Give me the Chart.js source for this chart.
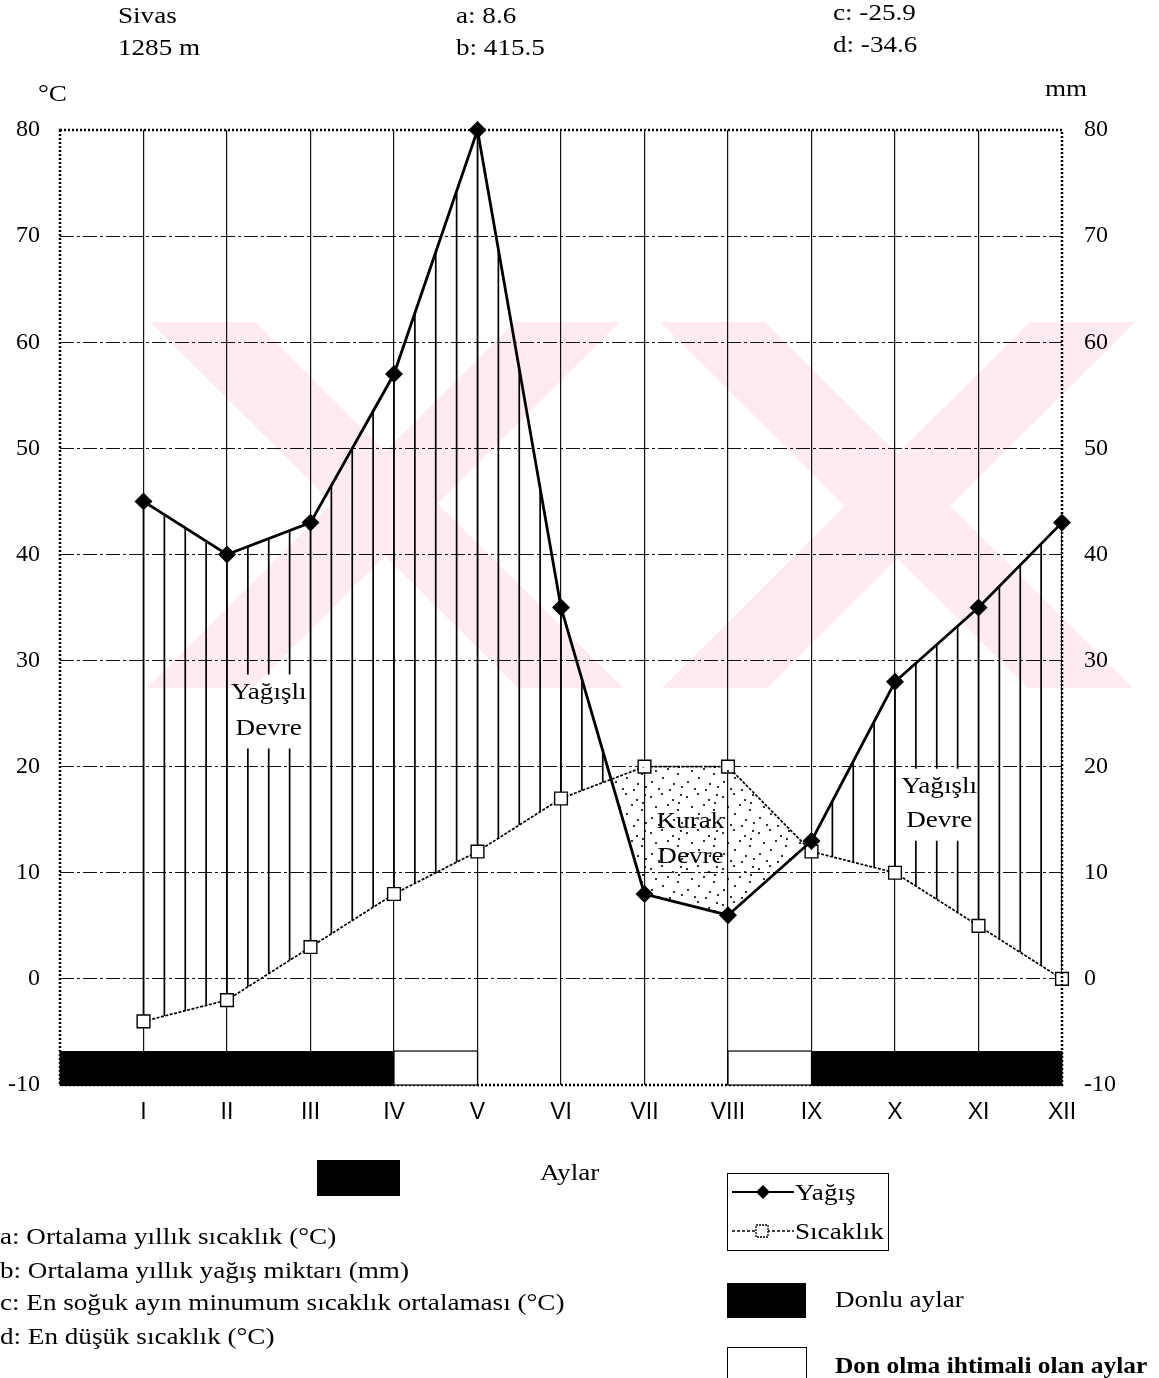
<!DOCTYPE html>
<html>
<head>
<meta charset="utf-8">
<script src="https://cdn.jsdelivr.net/npm/chart.js@4.4.1/dist/chart.umd.min.js"></script>
<style>
  body { margin: 0; background: #fff; }
  #wrap { position: relative; width: 1159px; height: 1378px; overflow: hidden; }
  #c { position: absolute; left: 0; top: 0; }
  .t { position: absolute; font-family: "Liberation Serif", serif; font-size: 24px; color: #000;
       line-height: 26px; height: 26px; white-space: nowrap;
       transform: scaleX(1.13); transform-origin: 0 50%; }
  .box { position: absolute; }
</style>
</head>
<body>
<div id="wrap">
  <canvas id="c" width="1159" height="1378"></canvas>

  <div class="t" style="left:118px; top:2px;">Sivas</div>
  <div class="t" style="left:118px; top:34px;">1285 m</div>
  <div class="t" style="left:456px; top:2px;">a: 8.6</div>
  <div class="t" style="left:456px; top:34px;">b: 415.5</div>
  <div class="t" style="left:833px; top:-1px;">c: -25.9</div>
  <div class="t" style="left:833px; top:31px;">d: -34.6</div>
  <div class="t" style="left:38px; top:80px;">°C</div>
  <div class="t" style="left:1045px; top:75px;">mm</div>

  <div class="box" style="left:317px; top:1160px; width:83px; height:36px; background:#000;"></div>
  <div class="t" style="left:540px; top:1159px;">Aylar</div>

  <div class="t" style="left:0px; top:1223px;">a: Ortalama yıllık sıcaklık (°C)</div>
  <div class="t" style="left:0px; top:1257px;">b: Ortalama yıllık yağış miktarı (mm)</div>
  <div class="t" style="left:0px; top:1289px;">c: En soğuk ayın minumum sıcaklık ortalaması (°C)</div>
  <div class="t" style="left:0px; top:1323px;">d: En düşük sıcaklık (°C)</div>

  <div class="box" style="left:727px; top:1173px; width:160px; height:76px; border:1px solid #000;"></div>
  <svg class="box" style="left:732px; top:1185px;" width="62" height="14">
    <line x1="0" y1="7" x2="62" y2="7" stroke="#000" stroke-width="2"/>
    <polygon points="31,0 38,7 31,14 24,7" fill="#000"/>
  </svg>
  <div class="t" style="left:795px; top:1179px;">Yağış</div>
  <svg class="box" style="left:732px; top:1223px;" width="62" height="16">
    <line x1="0" y1="8" x2="62" y2="8" stroke="#000" stroke-width="1.3" stroke-dasharray="3 2"/>
    <rect x="24" y="2" width="12" height="12" fill="#fff" stroke="#000" stroke-width="1.3" stroke-dasharray="2 1"/>
  </svg>
  <div class="t" style="left:795px; top:1218px;">Sıcaklık</div>

  <div class="box" style="left:727px; top:1283px; width:79px; height:35px; background:#000;"></div>
  <div class="t" style="left:835px; top:1286px;">Donlu aylar</div>
  <div class="box" style="left:727px; top:1347px; width:78px; height:40px; border:1px solid #000;"></div>
  <div class="t" style="left:835px; top:1352px; font-weight:bold; transform:scaleX(1.06);">Don olma ihtimali olan aylar</div>
</div>

<script>
// aylar ve veriler
const aylar = ["I", "II", "III", "IV", "V", "VI", "VII", "VIII", "IX", "X", "XI", "XII"];
const yagis = [45, 40, 43, 57, 80, 35, 8, 6, 13, 28, 35, 43];      // mm
const sicaklik = [-4, -2, 3, 8, 12, 17, 20, 20, 12, 10, 5, 0];      // °C
const eksenMin = -10;
const eksenMax = 80;
const donluAylar = [1, 2, 3, 4, 10, 11, 12];
const donIhtimali = [5, 9];

const canvas = document.getElementById("c");
const ctx = canvas.getContext("2d");

// kurak devre için noktalı desen
function noktaDeseni() {
    const c = document.createElement("canvas");
    c.width = 36; c.height = 36;
    const g = c.getContext("2d");
    g.fillStyle = "#000";
    const noktalar = [[3,5],[14,2],[25,8],[33,3],[8,15],[20,13],[30,18],[4,26],[15,22],[26,28],[11,33],[22,34],[34,31],[31,11]];
    noktalar.forEach(p => { g.beginPath(); g.arc(p[0], p[1], 1.1, 0, Math.PI * 2); g.fill(); });
    return ctx.createPattern(c, "repeat");
}

// yazı yerleri (tarama burada kesilir)
const yaziKutulari = [
    { x: 2.5, y: 27.0, ara: 36 },
    { x: 10.53, y: 18.1, ara: 34 }
];

function deger(arr, x) {
    const i = Math.floor(x) - 1;
    if (i >= arr.length - 1) return arr[arr.length - 1];
    const f = x - Math.floor(x);
    return arr[i] + (arr[i + 1] - arr[i]) * f;
}

function yazi(c, s, x, y) {
    c.save();
    c.translate(x, y);
    c.scale(1.13, 1);
    c.fillText(s, 0, 0);
    c.restore();
}

const filigran = {
    id: "filigran",
    beforeDraw(chart) {
        const c = chart.ctx;
        c.save();
        c.fillStyle = "rgba(240, 120, 150, 0.15)";
        const bantlar = [
            [150, 255, 518, 623], [515, 620, 147, 252],
            [660, 765, 1028, 1133], [1030, 1135, 662, 767]
        ];
        c.beginPath();
        bantlar.forEach(b => {
            c.moveTo(b[0], 322); c.lineTo(b[1], 322);
            c.lineTo(b[3], 688); c.lineTo(b[2], 688);
            c.closePath();
        });
        c.rect(150, 322, 0, 0);
        c.fill("nonzero");
        c.restore();
    }
};

const tarama = {
    id: "tarama",
    beforeDatasetsDraw(chart) {
        const c = chart.ctx;
        const xs = chart.scales.x, ys = chart.scales.y;
        const a = chart.chartArea;
        c.save();
        c.beginPath();
        c.rect(a.left, a.top, a.right - a.left, a.bottom - a.top);
        yaziKutulari.forEach(k => {
            const cx = xs.getPixelForValue(k.x);
            const top = ys.getPixelForValue(k.y) - 18;
            const bot = ys.getPixelForValue(k.y) + k.ara + 20;
            c.rect(cx + 34, top, -68, bot - top);
        });
        c.clip("evenodd");
        c.strokeStyle = "#000";
        c.lineWidth = 1.7;
        for (let x = 1; x <= 12; x += 0.25) {
            const p = deger(yagis, x), t = deger(sicaklik, x);
            if (p > t + 0.5) {
                const px = xs.getPixelForValue(x);
                c.beginPath();
                c.moveTo(px, ys.getPixelForValue(p));
                c.lineTo(px, ys.getPixelForValue(t));
                c.stroke();
            }
        }
        c.restore();
    },
    afterDatasetsDraw(chart) {
        const c = chart.ctx;
        const xs = chart.scales.x, ys = chart.scales.y;
        const a = chart.chartArea;
        c.save();
        // noktalı çerçeve
        c.strokeStyle = "#000";
        c.lineWidth = 2.5;
        c.setLineDash([2, 2]);
        c.strokeRect(a.left, a.top, a.right - a.left, a.bottom - a.top);
        c.setLineDash([]);
        // don şeritleri
        const ust = ys.getPixelForValue(-6.8);
        donluAylar.forEach(m => {
            const x0 = xs.getPixelForValue(m - 1), x1 = xs.getPixelForValue(m);
            c.fillStyle = "#000";
            c.fillRect(x0 - 0.5, ust, x1 - x0 + 1, a.bottom - ust + 1);
        });
        donIhtimali.forEach(m => {
            const x0 = xs.getPixelForValue(m - 1), x1 = xs.getPixelForValue(m);
            c.fillStyle = "#fff";
            c.fillRect(x0, ust, x1 - x0, a.bottom - ust);
            c.lineWidth = 1.2;
            c.strokeStyle = "#000";
            c.strokeRect(x0, ust, x1 - x0, a.bottom - ust);
        });
        // etiketler
        c.fillStyle = "#000";
        c.font = "24px 'Liberation Serif'";
        c.textAlign = "center";
        c.textBaseline = "middle";
        yaziKutulari.forEach(k => {
            const cx = xs.getPixelForValue(k.x);
            const cy = ys.getPixelForValue(k.y);
            yazi(c, "Yağışlı", cx, cy);
            yazi(c, "Devre", cx, cy + k.ara);
        });
        yazi(c, "Kurak", xs.getPixelForValue(7.55), ys.getPixelForValue(14.8));
        yazi(c, "Devre", xs.getPixelForValue(7.55), ys.getPixelForValue(11.5));
        c.restore();
    }
};

const kenarGizle = (ctxTick) => {
    const v = ctxTick.tick ? ctxTick.tick.value : null;
    return (v === eksenMin || v === eksenMax) ? "rgba(0,0,0,0)" : "#111";
};

new Chart(ctx, {
    type: "line",
    data: {
        datasets: [{
            label: "Yağış",
            data: yagis.map((v, i) => ({ x: i + 1, y: v })),
            borderColor: "#000",
            borderWidth: 2.8,
            pointStyle: "rectRot",
            pointRadius: 7,
            pointBackgroundColor: "#000",
            pointBorderColor: "#000",
            tension: 0,
            clip: false,
            fill: { target: 1, above: "rgba(0,0,0,0)", below: noktaDeseni() }
        }, {
            label: "Sıcaklık",
            data: sicaklik.map((v, i) => ({ x: i + 1, y: v })),
            borderColor: "#000",
            borderWidth: 1.7,
            borderDash: [3, 1.5],
            pointStyle: "rect",
            pointRadius: 9,
            pointBackgroundColor: "#fff",
            pointBorderColor: "#000",
            pointBorderWidth: 1.4,
            tension: 0,
            clip: false,
            fill: false
        }]
    },
    options: {
        responsive: false,
        animation: false,
        layout: { padding: { top: 130, bottom: 248, left: 0, right: 0 } },
        plugins: { legend: { display: false }, tooltip: { enabled: false } },
        scales: {
            x: {
                type: "linear",
                min: 0, max: 12,
                afterFit: s => { s.height = 45; },
                afterBuildTicks: s => { s.ticks = aylar.map((m, i) => ({ value: i })).concat([{ value: 12 }]); },
                ticks: {
                    autoSkip: false,
                    maxRotation: 0,
                    padding: 14,
                    color: "#000",
                    font: { family: "'Liberation Sans'", size: 23 },
                    callback: v => (v >= 1 ? aylar[v - 1] : "")
                },
                grid: {
                    drawTicks: false,
                    lineWidth: 1.2,
                    color: c => {
                        const v = c.tick ? c.tick.value : null;
                        return (v === 0 || v === 12) ? "rgba(0,0,0,0)" : "#111";
                    }
                },
                border: { display: false }
            },
            y: {
                position: "left",
                min: eksenMin, max: eksenMax,
                afterFit: s => { s.width = 60; },
                ticks: {
                    stepSize: 10,
                    padding: 20,
                    color: "#000",
                    font: { family: "'Liberation Serif'", size: 24 }
                },
                grid: { drawTicks: false, lineWidth: 1.1, color: kenarGizle },
                border: { display: false, dash: [14, 3, 3, 3] }
            },
            y2: {
                position: "right",
                min: eksenMin, max: eksenMax,
                afterFit: s => { s.width = 97; },
                ticks: {
                    stepSize: 10,
                    padding: 22,
                    color: "#000",
                    font: { family: "'Liberation Serif'", size: 24 }
                },
                grid: { drawOnChartArea: false, drawTicks: false },
                border: { display: false }
            }
        }
    },
    plugins: [filigran, tarama]
});
</script>
</body>
</html>
